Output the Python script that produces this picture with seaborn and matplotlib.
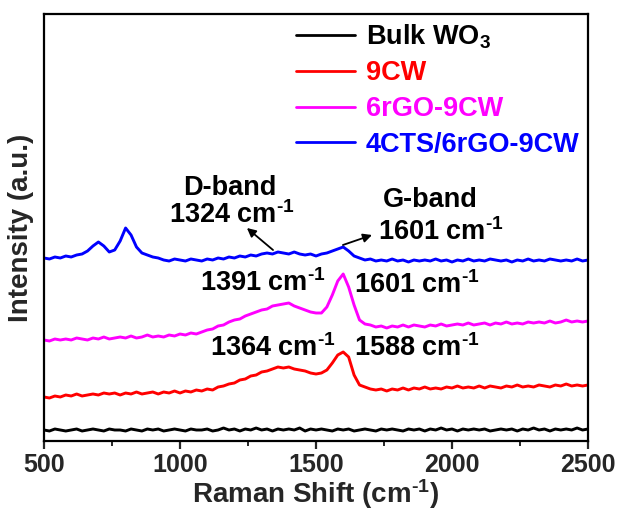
import numpy as np
import pandas as pd
import matplotlib
matplotlib.use("Agg")
import matplotlib.pyplot as plt
import seaborn as sns
from matplotlib.ticker import MultipleLocator

# ---- data ----
raman_shift = np.arange(500, 2501, 20)

bulk_wo3 = [11, 10, 12, 11, 10, 11, 12, 10, 11, 12,
            11, 10, 12, 11, 11, 10, 12, 11, 10, 12,
            11, 12, 10, 11, 12, 11, 10, 12, 11, 11,
            12, 10, 11, 13, 11, 12, 10, 12, 11, 13,
            11, 12, 10, 12, 11, 12, 11, 13, 10, 12,
            11, 12, 11, 10, 12, 11, 12, 10, 11, 12,
            11, 10, 12, 11, 12, 11, 10, 12, 11, 12,
            10, 12, 11, 13, 11, 12, 10, 12, 11, 12,
            11, 12, 10, 11, 12, 11, 12, 10, 12, 11,
            13, 11, 12, 10, 12, 11, 12, 11, 13, 11,
            12]

cw9 = [44, 43, 45, 44, 46, 45, 47, 45, 46, 47,
       46, 48, 47, 48, 46, 48, 47, 49, 47, 48,
       49, 47, 49, 48, 50, 48, 50, 49, 51, 50,
       52, 51, 54, 55, 57, 58, 61, 62, 65, 66,
       69, 70, 72, 74, 73, 74, 72, 71, 70, 68,
       67, 68, 71, 78, 86, 89, 84, 66, 56, 54,
       52, 51, 52, 50, 52, 51, 53, 51, 53, 52,
       54, 52, 53, 52, 54, 53, 55, 53, 54, 53,
       55, 53, 55, 54, 53, 55, 54, 56, 54, 55,
       54, 56, 55, 54, 56, 55, 57, 55, 56, 55,
       56]

rgo6_cw9 = [101, 100, 102, 101, 102, 101, 103, 102, 101, 103,
            102, 104, 102, 103, 104, 103, 105, 103, 104, 106,
            104, 105, 104, 106, 105, 107, 106, 108, 107, 109,
            111, 112, 115, 116, 119, 121, 122, 125, 127, 129,
            131, 132, 135, 136, 137, 138, 135, 133, 131, 129,
            128, 128, 134, 146, 160, 167, 154, 136, 121, 117,
            116, 114, 115, 113, 115, 114, 116, 114, 116, 115,
            114, 116, 115, 117, 115, 116, 117, 116, 118, 116,
            117, 118, 116, 118, 117, 119, 117, 118, 117, 119,
            118, 119, 118, 120, 118, 119, 121, 119, 120, 119,
            120]

cts4_rgo6_cw9 = [183, 182, 184, 183, 185, 184, 186, 187, 190, 195,
                 199, 195, 189, 191, 200, 213, 206, 194, 188, 186,
                 184, 183, 181, 180, 182, 181, 180, 182, 181, 180,
                 182, 181, 183, 182, 184, 183, 185, 184, 186, 185,
                 187, 188, 187, 189, 188, 187, 189, 187, 186, 187,
                 185, 187, 188, 190, 192, 194, 190, 185, 183, 181,
                 182, 180, 181, 180, 182, 180, 181, 179, 181, 180,
                 181, 180, 182, 180, 181, 179, 181, 180, 182, 180,
                 181, 180, 182, 181, 180, 181, 179, 181, 180, 182,
                 180, 181, 180, 182, 181, 180, 181, 180, 182, 180,
                 181]

sample_labels = ["Bulk WO$_3$", "9CW", "6rGO-9CW", "4CTS/6rGO-9CW"]
sample_colors = ["#000000", "#ff0000", "#ff00ff", "#0000ff"]

SUP = r"$^{\text{-1}}$"
# annotation texts and anchors (wavenumber, intensity)
band_texts = ["D-band", "1324 cm" + SUP, "G-band", "1601 cm" + SUP,
              "1391 cm" + SUP, "1601 cm" + SUP, "1364 cm" + SUP, "1588 cm" + SUP]
band_x = [1184, 1191, 1919, 1960, 1305, 1871, 1342, 1871]
band_y = [246, 218, 234, 201, 150, 148, 85, 85]

arrow_tail_x = [1342, 1599]
arrow_tail_y = [191, 196]
arrow_head_x = [1246, 1706]
arrow_head_y = [213, 206]

# ---- build long table ----
series = [bulk_wo3, cw9, rgo6_cw9, cts4_rgo6_cw9]
frames = []
for lab, vals in zip(sample_labels, series):
    frames.append(pd.DataFrame({"shift": raman_shift, "intensity": vals, "sample": lab}))
df = pd.concat(frames, ignore_index=True)

sns.set_theme(style="white")
plt.rcParams["font.family"] = ["Liberation Sans", "DejaVu Sans"]
plt.rcParams["font.weight"] = "bold"
plt.rcParams["mathtext.fontset"] = "custom"
plt.rcParams["mathtext.rm"] = "Liberation Sans:bold"
plt.rcParams["mathtext.it"] = "Liberation Sans:bold"
plt.rcParams["mathtext.bf"] = "Liberation Sans:bold"
plt.rcParams["mathtext.default"] = "rm"

fig = plt.figure(figsize=(6.21, 5.12), dpi=100)
ax = fig.add_axes([44 / 621, 1 - 441 / 512, (588 - 44) / 621, (441 - 14) / 512])

sns.lineplot(data=df, x="shift", y="intensity", hue="sample",
             hue_order=sample_labels, palette=sample_colors,
             linewidth=2.1, ax=ax, sort=False, estimator=None)

ax.set_xlim(500, 2500)
ax.set_ylim(0, 427)
ax.set_yticks([])
ax.xaxis.set_major_locator(MultipleLocator(500))
ax.xaxis.set_minor_locator(MultipleLocator(250))
ax.tick_params(axis="x", which="major", direction="out", length=6, width=1.6,
               labelsize=18, pad=3, bottom=True, top=False)
ax.tick_params(axis="x", which="minor", direction="out", length=3.5, width=1.4,
               bottom=True, top=False)
for lbl in ax.get_xticklabels():
    lbl.set_fontweight("bold")
for sp in ax.spines.values():
    sp.set_linewidth(1.6)
    sp.set_color("black")

ax.set_xlabel("Raman Shift (cm" + SUP + ")", fontsize=20, fontweight="bold", labelpad=0)
ax.set_ylabel("Intensity (a.u.)", fontsize=20, fontweight="bold", labelpad=7)

for t, x, y in zip(band_texts, band_x, band_y):
    ax.text(x, y, t, ha="center", va="baseline", fontsize=19.5,
            fontweight="bold", color="black")

for tx, ty, hx, hy in zip(arrow_tail_x, arrow_tail_y, arrow_head_x, arrow_head_y):
    ax.annotate("", xy=(hx, hy), xytext=(tx, ty),
                arrowprops=dict(arrowstyle="-|>", color="black", lw=1.3,
                                mutation_scale=13, shrinkA=0, shrinkB=0))

leg = ax.legend(loc="upper right", frameon=False,
                handlelength=2.2, handletextpad=0.4, labelspacing=0.36,
                borderaxespad=0.0, borderpad=0.3,
                prop={"weight": "bold", "size": 19.5})
for txt, col in zip(leg.get_texts(), sample_colors):
    txt.set_color(col)
for h in leg.get_lines():
    h.set_linewidth(2.0)

fig.savefig("out.png", dpi=100)
